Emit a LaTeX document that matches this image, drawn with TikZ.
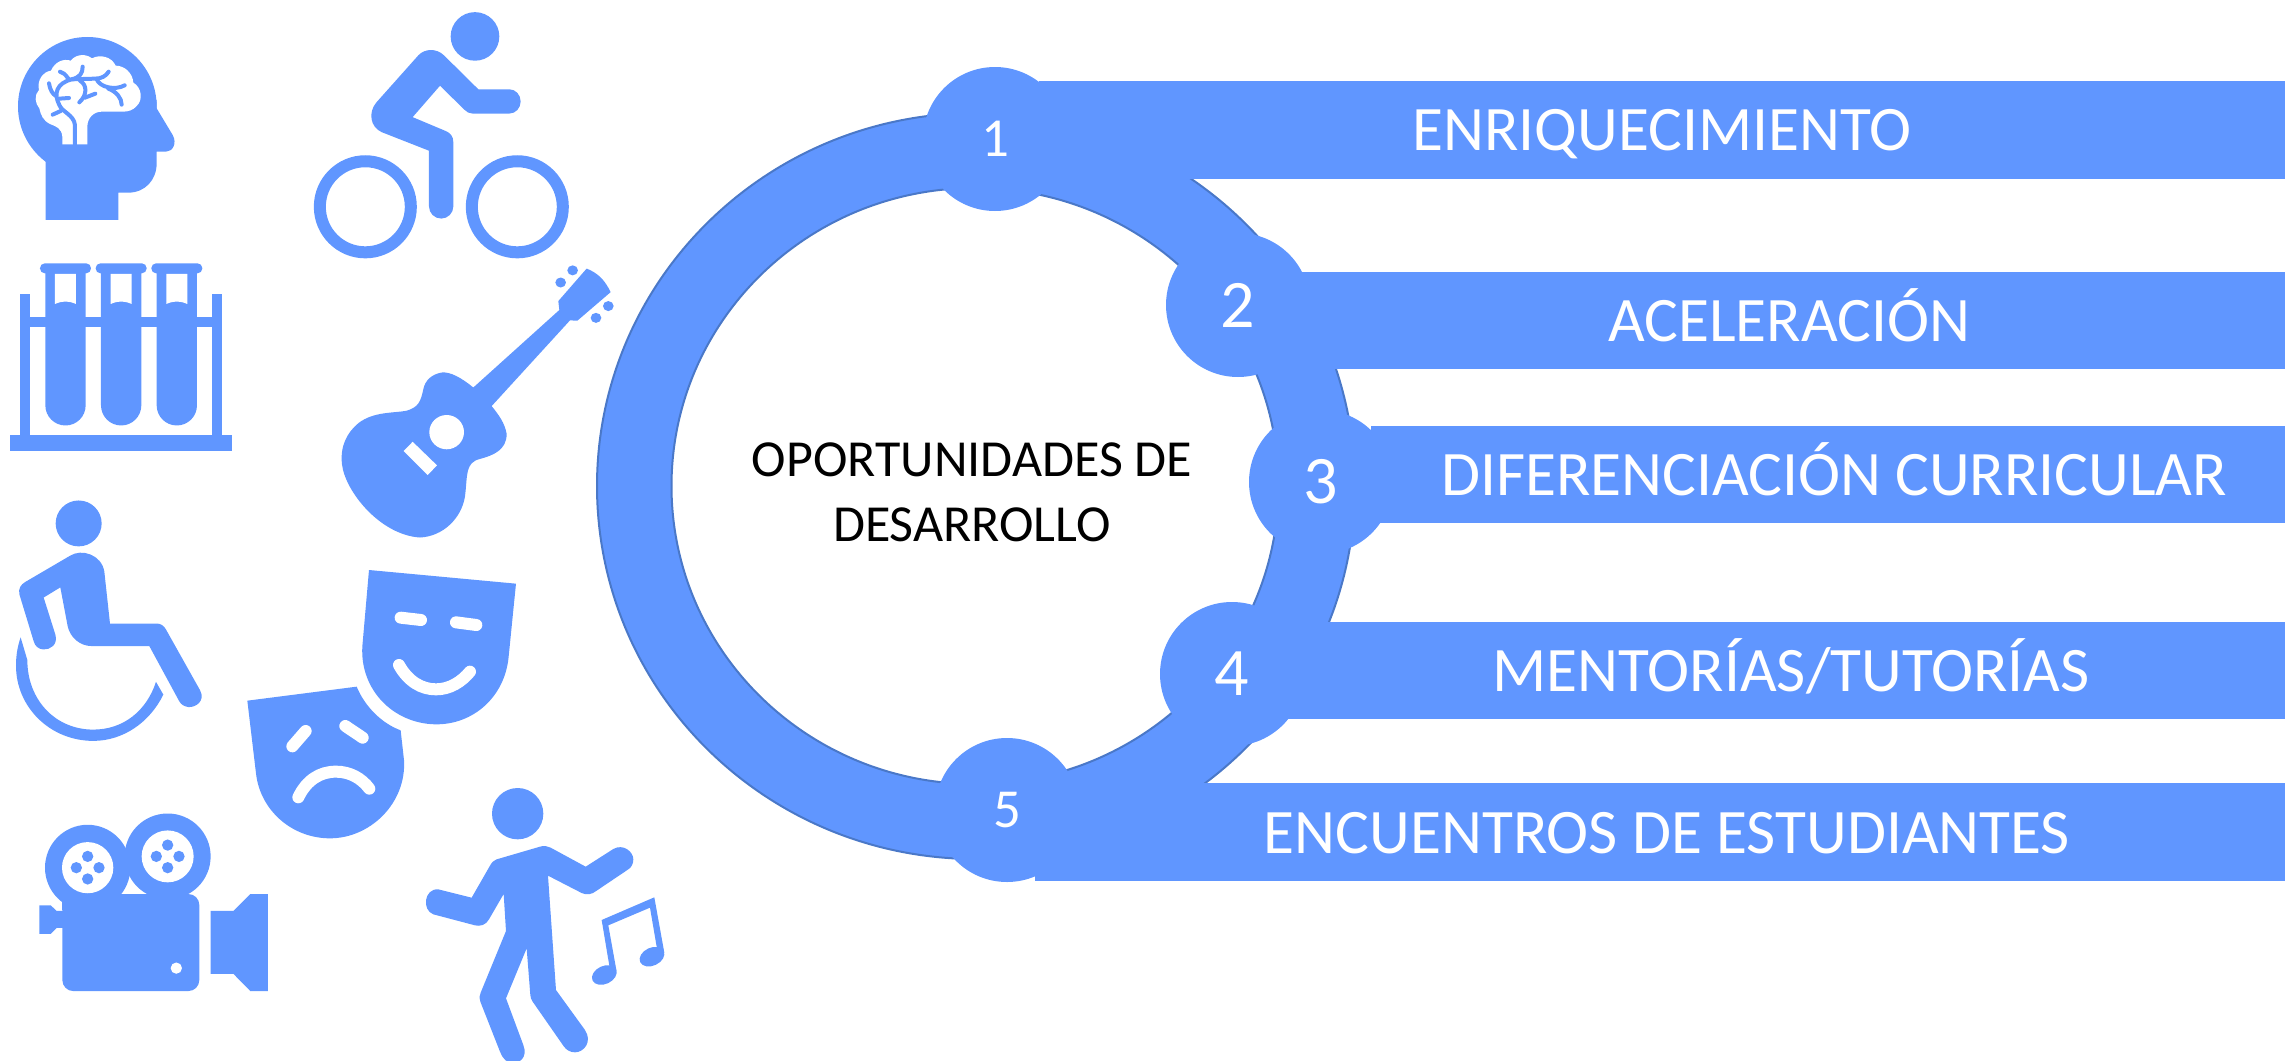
\documentclass[tikz,border=0pt]{standalone}
\usepackage{fontspec}
\setmainfont{Carlito}
\definecolor{azul}{HTML}{6096FF}
\definecolor{borde}{HTML}{4A78C8}
\tikzset{
  ic/.style={fill=azul,draw=none},
  wh/.style={fill=white,draw=none},
  ringshape/.style={fill=azul,draw=borde,line width=1pt,even odd rule},
  barbox/.style={fill=azul,draw=none,inner sep=0pt,outer sep=0pt,anchor=north west},
  numdot/.style={circle,fill=azul,draw=none,minimum size=72pt,inner sep=0pt,text=white},
  numsmall/.style={numdot,font=\fontsize{27.5}{30}\selectfont},
  numbig/.style={numdot,font=\fontsize{34}{36}\selectfont},
  bartext/.style={text=white,inner sep=0pt,anchor=base,font=\fontsize{31.7}{34}\selectfont},
  centertext/.style={text=black,inner sep=0pt,align=center,font=\fontsize{26}{32.5}\selectfont},
  zoomA/.style={x=1/6 pt,y=-1/6 pt},
  zoomB/.style={x=1/6 pt,y=-0.17857pt},
  zoomC/.style={x=1/6 pt,y=-0.18811pt},
  vein/.style={draw=azul,line width=2pt,line cap=round,line join=round,fill=none},
  whl/.style={draw=white,line width=6pt,line cap=round,fill=none}
}
\begin{document}
\begin{tikzpicture}[x=0.5pt,y=-0.5pt]
\useasboundingbox (0,0) rectangle (2285,1060);
% ring
\path[ringshape] (976,113) arc[start angle=-90,end angle=270,x radius=379,y radius=373] -- cycle
   (975,188) arc[start angle=-90,end angle=270,x radius=303.5,y radius=298] -- cycle;
% bars
\node[barbox,minimum width=623pt,minimum height=49pt] (bar1) at (1039,81) {};
\node[barbox,minimum width=502.5pt,minimum height=48.5pt] (bar2) at (1280,272) {};
\node[barbox,minimum width=457pt,minimum height=48.5pt] (bar3) at (1371,426) {};
\node[barbox,minimum width=507.5pt,minimum height=48.5pt] (bar4) at (1270,622) {};
\node[barbox,minimum width=625pt,minimum height=49pt] (bar5) at (1035,783) {};
% circles with numbers
\node[numsmall] (n1) at (995,139) {1};
\node[numbig] (n2) at (1238,305) {2};
\node[numbig] (n3) at (1321,482) {3};
\node[numbig] (n4) at (1232,674) {4};
\node[numsmall] (n5) at (1007,810) {5};
% texts
\node[bartext] (t1) at (1662,150) {ENRIQUECIMIENTO};
\node[bartext] (t2) at (1789,341) {ACELERACIÓN};
\node[bartext] (t3) at (1834,495) {DIFERENCIACIÓN CURRICULAR};
\node[bartext] (t4) at (1791,691) {MENTORÍAS/TUTORÍAS};
\node[bartext] (t5) at (1667,853) {ENCUENTROS DE ESTUDIANTES};
\node[centertext] (centro) at (972,492) {OPORTUNIDADES DE\\DESARROLLO};

% ---------- head + tubes (zoom frame 1)
\begin{scope}[shift={(0,0)},zoomA]
  \fill[ic] (262,319) circle[radius=208];
  \fill[ic] (470,300) -- (470,325) -- (518,405) .. controls (532,430) and (518,455) .. (498,455) -- (470,455) -- (470,490) .. controls (470,540) and (435,578) .. (385,578) -- (355,578) -- (355,660) -- (137,660) -- (137,420) -- cycle;
  % brain
  \fill[wh] (187,433) -- (187,410) .. controls (185,385) and (170,380) .. (150,372) .. controls (130,362) and (122,345) .. (118,325) .. controls (105,310) and (102,285) .. (117,270) .. controls (110,240) and (130,215) .. (153,212) .. controls (165,185) and (190,175) .. (212,182) .. controls (230,160) and (260,162) .. (276,175) .. controls (300,162) and (335,170) .. (347,197) .. controls (375,197) and (398,220) .. (400,248) .. controls (425,262) and (430,300) .. (410,318) .. controls (400,330) and (385,335) .. (370,335) -- (305,335) .. controls (280,335) and (262,355) .. (262,380) -- (262,433) -- cycle;
  \draw[vein] (225,433) -- (225,375) .. controls (222,345) and (185,335) .. (178,315) .. controls (160,280) and (170,250) .. (215,238) -- (285,236) .. controls (305,236) and (318,228) .. (326,215);
  \draw[vein] (215,238) .. controls (240,232) and (248,220) .. (248,200);
  \draw[vein] (205,236) .. controls (195,222) and (190,218) .. (180,215);
  \draw[vein] (147,250) .. controls (150,270) and (158,282) .. (168,288);
  \draw[vein] (178,296) -- (207,294);
  \draw[vein] (182,333) -- (158,344);
  \draw[vein] (240,242) .. controls (262,255) and (262,285) .. (238,307);
  \draw[vein] (255,293) -- (286,281);
  \draw[vein] (290,238) .. controls (300,262) and (345,272) .. (374,256);
  \draw[vein] (325,266) .. controls (350,275) and (365,295) .. (365,314);
  % rack
  \fill[ic] (30,1306) rectangle (697,1352);
  \fill[ic] (60,882) rectangle (90,1310);
  \fill[ic] (637,882) rectangle (667,1310);
  \fill[ic] (90,950) rectangle (637,980);
  \foreach \dx in {0,167,334}{
    \begin{scope}[shift={(\dx,0)}]
    \fill[ic] (136,805) -- (257,805) -- (257,1216) arc[start angle=0,end angle=180,radius=60.5] -- cycle;
    \fill[ic,rounded corners=2.4pt] (120,790) rectangle (273,820);
    \fill[wh] (165,822) -- (228,822) -- (228,912) .. controls (205,902) and (188,902) .. (165,912) -- cycle;
    \end{scope}
  }
\end{scope}

% ---------- cyclist + guitar (zoom frame 2)
\begin{scope}[shift={(290,0)},zoomB]
  \fill[ic] (555,102) ellipse[x radius=73,y radius=68];
  \draw[azul,line width=6pt] (226,579) ellipse[x radius=136.5,y radius=127.5];
  \draw[azul,line width=6pt] (682,579) ellipse[x radius=136.5,y radius=127.5];
  \fill[ic] (385,155) .. controls (405,135) and (440,135) .. (462,155) -- (565,250) -- (658,250) arc[start angle=-90,end angle=90,x radius=34,y radius=34] -- (548,318) .. controls (538,318) and (530,314) .. (523,307) -- (450,240) -- (368,328) -- (465,366) .. controls (482,372) and (490,382) .. (490,398) -- (490,578) arc[start angle=0,end angle=180,x radius=36.5,y radius=34] -- (417,422) -- (275,370) .. controls (240,355) and (235,315) .. (258,288) -- cycle;
  % guitar
  \fill[ic] (550,1085) .. controls (515,1058) and (480,1040) .. (455,1043) .. controls (425,1048) and (405,1065) .. (400,1090) .. controls (392,1125) and (385,1140) .. (350,1150) .. controls (310,1157) and (250,1152) .. (205,1185) .. controls (170,1212) and (150,1250) .. (156,1300) .. controls (165,1375) and (270,1498) .. (390,1505) .. controls (460,1502) and (515,1450) .. (525,1390) .. controls (533,1330) and (525,1295) .. (570,1285) .. controls (610,1275) and (650,1260) .. (650,1215) .. controls (645,1185) and (625,1160) .. (605,1137) -- (840,897) -- (862,898) -- (962,818) .. controls (945,785) and (925,765) .. (890,752) -- (805,843) -- (808,868) -- cycle;
  \foreach \px/\py in {848/757,812/791,955/857,918/890}{
    \fill[ic] (\px,\py) ellipse[x radius=16,y radius=14];
  }
  \fill[wh] (470,1210) ellipse[x radius=52,y radius=48];
  \fill[wh] (368,1237) -- (441,1303) -- (413,1330) -- (341,1263) -- cycle;
\end{scope}

% ---------- wheelchair + camera (zoom frame 3)
\begin{scope}[shift={(0,470)},zoomC]
  \fill[ic] (236,142) ellipse[x radius=69,y radius=61];
  \fill[ic] (75,298) -- (210,228) .. controls (245,208) and (305,225) .. (313,270) -- (330,408) -- (470,408) .. controls (482,408) and (492,414) .. (498,424) -- (600,585) .. controls (618,615) and (585,632) .. (565,630) .. controls (552,628) and (544,624) .. (538,615) -- (448,468) -- (275,468) .. controls (240,468) and (210,445) .. (203,415) -- (181,312) -- (131,339) -- (166,437) .. controls (175,465) and (150,478) .. (130,477) .. controls (115,476) and (105,468) .. (101,455) -- (58,330) .. controls (55,315) and (62,305) .. (75,298) -- cycle;
  \fill[ic] (62,445) .. controls (52,470) and (48,495) .. (48,520) .. controls (48,630) and (150,720) .. (280,720) .. controls (370,720) and (450,670) .. (490,597) -- (468,563) .. controls (440,640) and (370,690) .. (280,690) .. controls (165,690) and (82,610) .. (82,505) -- cycle;
  % camera
  \fill[ic] (263,1057) ellipse[x radius=128,y radius=114];
  \fill[ic] (503,1027) ellipse[x radius=129,y radius=114];
  \fill[wh] (263,1057) ellipse[x radius=77,y radius=68];
  \fill[wh] (503,1027) ellipse[x radius=78,y radius=69];
  \foreach \px/\py in {263/1027,229/1057,297/1057,263/1087,503/997,469/1027,537/1027,503/1057}{
    \fill[ic] (\px,\py) ellipse[x radius=17,y radius=15];
  }
  \fill[ic,rounded corners=5.5pt] (187,1127) rectangle (598,1385);
  \fill[ic] (187,1120) rectangle (230,1170);
  \fill[wh] (529,1324) ellipse[x radius=17,y radius=15];
  \fill[ic] (118,1157) -- (152,1157) -- (170,1172) -- (190,1172) -- (190,1217) -- (170,1217) -- (152,1233) -- (118,1233) -- cycle;
  \fill[ic] (632,1172) -- (700,1172) -- (751,1127) -- (804,1127) -- (804,1385) -- (751,1385) -- (700,1339) -- (632,1339) -- cycle;
\end{scope}

% ---------- masks (zoom frame 4)
\begin{scope}[shift={(230,550)},zoomA]
  \fill[ic] (417,60) -- (858,101) -- (836,320) .. controls (825,440) and (730,525) .. (615,523) .. controls (490,520) and (390,420) .. (397,290) -- cycle;
  \draw[whl] (512,203) -- (573,210);
  \draw[whl] (678,217) -- (739,225);
  \draw[whl] (507,345) .. controls (535,395) and (575,418) .. (618,418) .. controls (660,418) and (695,395) .. (720,365);
  \fill[ic] (52,452) -- (380,410) .. controls (405,470) and (455,520) .. (512,541) -- (522,630) .. controls (530,760) and (420,865) .. (300,865) .. controls (185,865) and (90,780) .. (78,670) -- cycle;
  \draw[whl] (187,589) -- (227,543);
  \draw[whl] (346,528) -- (398,563);
  \draw[whl] (205,742) .. controls (230,690) and (270,665) .. (318,665) .. controls (360,665) and (395,685) .. (418,716);
\end{scope}

% ---------- dancer (zoom frame 5)
\begin{scope}[shift={(400,770)},zoomA]
  \fill[ic] (353,131) circle[radius=77];
  \fill[ic] (290,268) -- (420,230) .. controls (432,226) and (442,228) .. (452,233) -- (557,290) -- (640,237) .. controls (670,220) and (700,245) .. (700,268) .. controls (700,280) and (695,292) .. (685,298) -- (590,362) .. controls (575,374) and (560,376) .. (545,369) -- (444,317) -- (468,660) -- (555,780) .. controls (578,815) and (552,847) .. (525,847) .. controls (510,847) and (500,840) .. (492,830) -- (398,695) .. controls (393,688) and (392,682) .. (391,675) -- (380,535) -- (318,685) -- (370,825) .. controls (385,865) and (355,880) .. (338,880) .. controls (322,880) and (307,865) .. (300,845) -- (241,695) .. controls (237,685) and (238,678) .. (242,668) -- (318,483) -- (311,372) -- (267,448) .. controls (258,465) and (240,470) .. (225,466) -- (100,433) .. controls (65,420) and (72,355) .. (115,358) -- (215,383) -- (270,287) .. controls (276,276) and (282,271) .. (290,268) -- cycle;
  \fill[ic] (605,450) -- (763,382) -- (793,548) -- (770,530) -- (750,413) -- (625,466) -- (650,605) -- (628,587) -- cycle;
  \fill[ic,shift={(613,615)},rotate=25] (0,0) ellipse[x radius=39,y radius=27];
  \fill[ic,shift={(756,560)},rotate=25] (0,0) ellipse[x radius=39,y radius=27];
\end{scope}
\end{tikzpicture}
\end{document}
